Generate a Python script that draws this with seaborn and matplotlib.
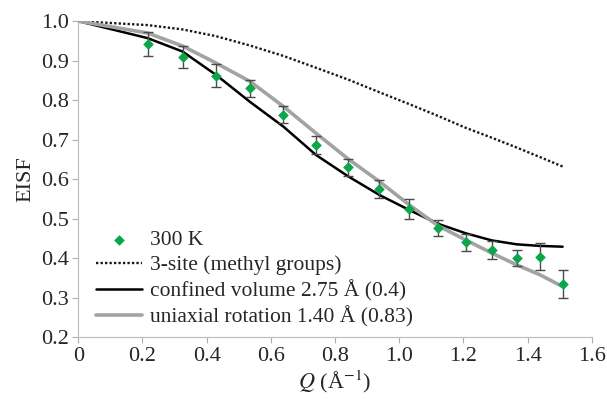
import numpy as np
import pandas as pd
import matplotlib
matplotlib.use("Agg")
import matplotlib.pyplot as plt
import seaborn as sns

# ── data ─────────────────────────────────────────────────────────────────
q_data = [0.216, 0.325, 0.429, 0.536, 0.639, 0.741, 0.841, 0.938,
          1.031, 1.121, 1.207, 1.288, 1.366, 1.438, 1.509]
eisf_300k = [0.942, 0.909, 0.862, 0.830, 0.763, 0.687, 0.630, 0.575,
             0.524, 0.476, 0.440, 0.421, 0.400, 0.404, 0.335]
eisf_err = [0.030, 0.027, 0.029, 0.022, 0.022, 0.023, 0.021, 0.023,
            0.025, 0.020, 0.021, 0.022, 0.021, 0.035, 0.035]

q_model = [0.0] + q_data
three_site = [1.000, 0.990, 0.979, 0.962, 0.938, 0.912, 0.882, 0.852,
              0.820, 0.790, 0.760, 0.730, 0.705, 0.680, 0.656, 0.632]
confined = [1.000, 0.957, 0.923, 0.864, 0.795, 0.733, 0.661, 0.607,
            0.560, 0.522, 0.487, 0.463, 0.445, 0.435, 0.431, 0.429]
uniaxial = [1.000, 0.970, 0.937, 0.894, 0.847, 0.784, 0.716, 0.651,
            0.594, 0.535, 0.482, 0.446, 0.413, 0.383, 0.358, 0.328]

labels = ["300 K", "3-site (methyl groups)",
          "confined volume 2.75 Å (0.4)", "uniaxial rotation 1.40 Å (0.83)"]

sns.set_style("white")
plt.rcParams["font.family"] = ["Liberation Serif", "DejaVu Serif"]
plt.rcParams["mathtext.fontset"] = "stix"

fig = plt.figure(figsize=(6.07, 3.99), dpi=100)
ax = fig.add_axes([0.129, 0.155, 0.846, 0.792])

models = pd.DataFrame({"Q": q_model, "three": three_site,
                       "conf": confined, "uni": uniaxial})
df = pd.DataFrame({"Q": q_data, "EISF": eisf_300k, "err": eisf_err})

# error bars first so markers sit on top
ax.errorbar(df["Q"], df["EISF"], yerr=df["err"], fmt="none",
            ecolor="#4a4a4a", elinewidth=1.0, capsize=3.5, capthick=1.0, zorder=4)
sns.scatterplot(data=df, x="Q", y="EISF", ax=ax, marker="D", s=24,
                color="#0aa64a", edgecolor="#0aa64a", linewidth=0.5,
                label=labels[0], zorder=5)
sns.lineplot(data=models, x="Q", y="three", ax=ax, color="#1a1a1a",
             linestyle=(0, (1, 0.9)), linewidth=1.7, label=labels[1], zorder=2)
sns.lineplot(data=models, x="Q", y="conf", ax=ax, color="black",
             linewidth=1.8, label=labels[2], zorder=3)
sns.lineplot(data=models, x="Q", y="uni", ax=ax, color="#a3a3a3",
             linewidth=2.6, label=labels[3], zorder=3)

ax.set_xlim(0, 1.6)
ax.set_ylim(0.2, 1.0)
ax.set_xticks(np.arange(0, 1.61, 0.2))
ax.set_xticklabels(["0"] + [f"{v:.1f}" for v in np.arange(0.2, 1.61, 0.2)])
ax.set_yticks(np.arange(0.2, 1.01, 0.1))
ax.set_yticklabels([f"{v:.1f}" for v in np.arange(0.2, 1.01, 0.1)])
ax.tick_params(axis="both", labelsize=16, length=4, width=0.8,
               color="#b0b0b0", direction="out", pad=3, left=True, bottom=True)

for side in ["top", "right"]:
    ax.spines[side].set_visible(False)
for side in ["left", "bottom"]:
    ax.spines[side].set_color("#c0c0c0")
    ax.spines[side].set_linewidth(0.9)

ax.set_xlabel(r"$Q$ (Å$^{-1}$)", fontsize=16, labelpad=2)
ax.set_ylabel("EISF", fontsize=16, labelpad=4)

handles, labs = ax.get_legend_handles_labels()
ax.legend(handles, labs, loc="lower left", bbox_to_anchor=(0.01, -0.01),
          frameon=False, fontsize=15.5, handlelength=2.1, handletextpad=0.4,
          labelspacing=0.22, borderaxespad=0.2)

plt.savefig("out.png", dpi=100)
plt.close()
